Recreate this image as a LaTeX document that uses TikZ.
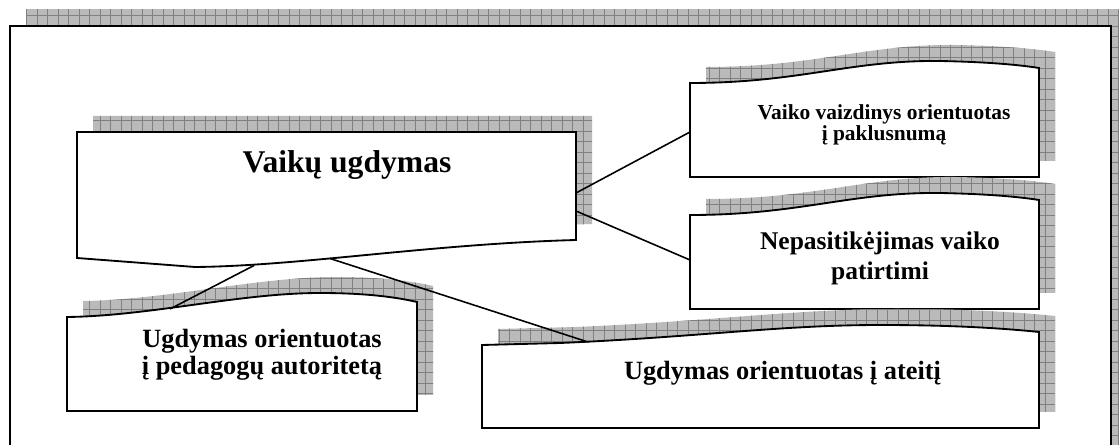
\documentclass[tikz,border=0pt]{standalone}
\usepackage{fontspec}
\setmainfont{Liberation Serif}
\usetikzlibrary{calc}

% outlines of the boxes (pixel units, y runs downwards)
\newcommand{\frameshape}{(10,26) rectangle (1111,480)}
\newcommand{\mainshape}{(77,132) -- (576,132) -- (576,240) .. controls (430,244) and (300,266) .. (195,267) -- (77,258) -- cycle}
\newcommand{\obeyshape}{(690,83) .. controls (800,83) and (850,60) .. (940,61) .. controls (990,62) and (1020,65) .. (1039,68) -- (1039,177) -- (690,177) -- cycle}
\newcommand{\distrustshape}{(690,215) .. controls (800,215) and (850,192) .. (940,193) .. controls (990,194) and (1020,197) .. (1039,200) -- (1039,309) -- (690,309) -- cycle}
\newcommand{\authorityshape}{(67,317) .. controls (150,316) and (240,293) .. (320,293) .. controls (370,293) and (400,298) .. (417,302) -- (417,411) -- (67,411) -- cycle}
\newcommand{\futureshape}{(482,345) -- (560,343) .. controls (700,337) and (780,325) .. (880,325) .. controls (960,325) and (1010,329) .. (1039,332) -- (1039,428) -- (482,428) -- cycle}

% hatched shadow up and to the right, then the box itself
\newcommand{\shadowed}[2][]{%
  \begin{scope}[shift={(16,-16)}]
    \clip #2;
    \fill[shadowfill] (-50,-50) rectangle (1200,520);
    \draw[shadowgrid] (-50,-50) grid (1200,520);
  \end{scope}
  \filldraw[box,#1] #2;}

\begin{document}
\begin{tikzpicture}[x=0.02cm, y=-0.02cm]
\tikzset{
    box/.style={draw, fill=white, line width=1.05pt},
    shadowfill/.style={fill=black!27},
    shadowgrid/.style={draw=black!50, line width=0.35pt, step=0.21cm},
    link/.style={line width=0.9pt},
    txt/.style={anchor=base, align=center, font=\bfseries}
}
\useasboundingbox (0,0) rectangle (1119,445);

% --- Frame and boxes ---
\shadowed[line width=1.4pt]{\frameshape}
\shadowed{\mainshape}
\shadowed{\obeyshape}
\shadowed{\distrustshape}
\shadowed{\authorityshape}
\shadowed{\futureshape}

% --- Texts (base = last line) ---
\node[txt, font=\fontsize{18}{20}\selectfont\bfseries] (main) at (347,172.7) {Vaikų ugdymas};
\node[txt, font=\fontsize{12.2}{12}\selectfont\bfseries] (obey) at (884,141) {Vaiko vaizdinys orientuotas\\ į paklusnumą};
\node[txt, font=\fontsize{14.5}{17.5}\selectfont\bfseries] (distrust) at (880,280) {Nepasitikėjimas vaiko\\ patirtimi};
\node[txt, font=\fontsize{15}{15.7}\selectfont\bfseries] (authority) at (262,375) {Ugdymas orientuotas\\ į pedagogų autoritetą};
\node[txt, font=\fontsize{15}{18}\selectfont\bfseries] (future) at (782.5,379.3) {Ugdymas orientuotas į ateitį};

% --- Connectors ---
\coordinate (mainE1) at (576,193);
\coordinate (mainE2) at (576,211);
\coordinate (mainS1) at (254,265.5);
\coordinate (mainS2) at (330,258.5);
\coordinate (obeyW) at (690,132);
\coordinate (distrustW) at (690,260);
\coordinate (authorityN) at (170,309);
\coordinate (futureN) at (588,342);

\draw[link] (mainE1) -- (obeyW);
\draw[link] (mainE2) -- (distrustW);
\draw[link] (mainS1) -- (authorityN);
\draw[link] (mainS2) -- (futureN);

\end{tikzpicture}
\end{document}
